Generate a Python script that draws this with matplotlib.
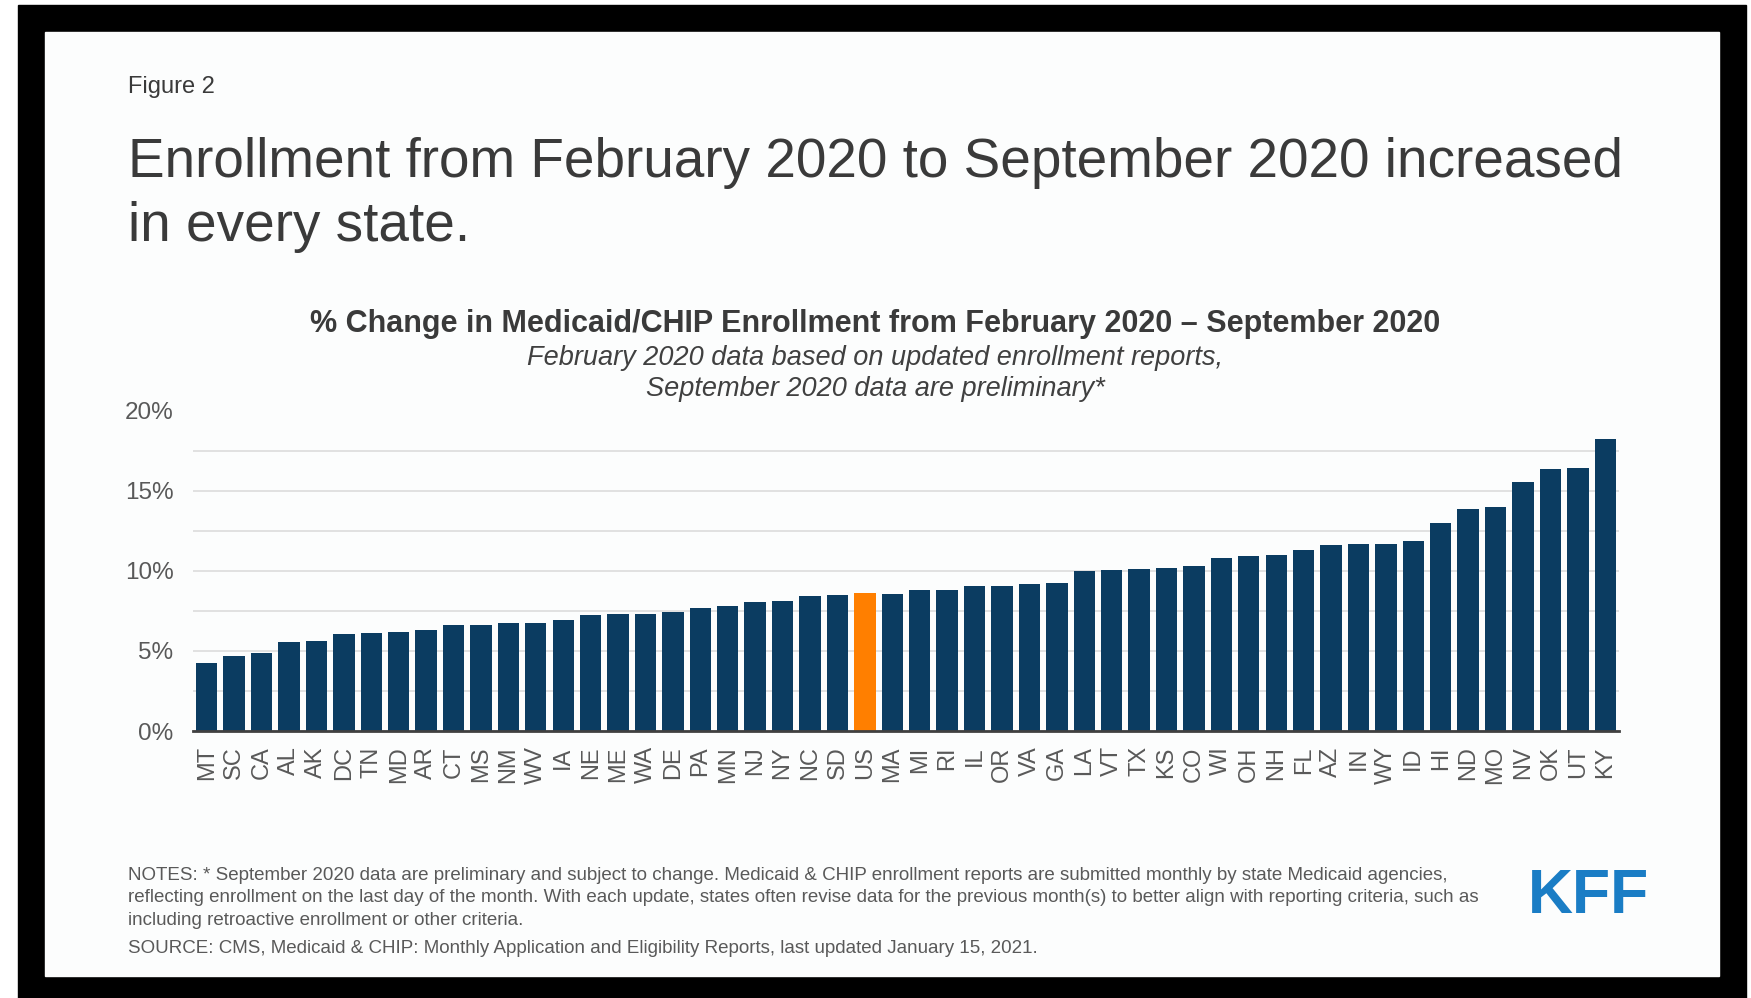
import matplotlib.pyplot as plt
from matplotlib.patches import Rectangle

# data (% change Feb 2020 -> Sep 2020)
states = ["MT", "SC", "CA", "AL", "AK", "DC", "TN", "MD", "AR", "CT", "MS", "NM", "WV",
          "IA", "NE", "ME", "WA", "DE", "PA", "MN", "NJ", "NY", "NC", "SD", "US", "MA",
          "MI", "RI", "IL", "OR", "VA", "GA", "LA", "VT", "TX", "KS", "CO", "WI", "OH",
          "NH", "FL", "AZ", "IN", "WY", "ID", "HI", "ND", "MO", "NV", "OK", "UT", "KY"]
pct_change = [4.26, 4.68, 4.84, 5.53, 5.63, 6.03, 6.09, 6.17, 6.30, 6.59, 6.59, 6.76, 6.76,
              6.92, 7.21, 7.30, 7.30, 7.42, 7.65, 7.80, 8.05, 8.10, 8.44, 8.50, 8.60, 8.58,
              8.77, 8.77, 9.06, 9.06, 9.17, 9.23, 9.96, 10.02, 10.12, 10.20, 10.27, 10.80, 10.90,
              11.00, 11.27, 11.58, 11.68, 11.68, 11.83, 12.95, 13.83, 14.00, 15.54, 16.32, 16.42, 18.23]
y_ticks = [0, 5, 10, 15, 20]

W, H = 1751, 998
navy = "#0b3c61"
orange = "#ff7f00"
grey_txt = "#595959"
dark_txt = "#3a3a3a"

def fx(px):
    return px / W

def fy(py):
    return 1 - py / H

plt.rcParams["font.family"] = ["Liberation Sans", "DejaVu Sans"]

fig = plt.figure(figsize=(W / 100, H / 100), dpi=100, facecolor="white")

# black frame and white slide panel
fig.patches.append(Rectangle((fx(18), fy(998)), fx(1746 - 18), (998 - 5) / H,
                             transform=fig.transFigure, color="black", zorder=-2))
fig.patches.append(Rectangle((fx(45), fy(976)), fx(1719 - 45), (976 - 32) / H,
                             transform=fig.transFigure, color="#fcfdfd", zorder=-1))

# header texts
fig.text(fx(128), fy(93), "Figure 2", fontsize=17, color=dark_txt, va="baseline")
fig.text(fx(128), fy(177), "Enrollment from February 2020 to September 2020 increased",
         fontsize=39.5, color=dark_txt, va="baseline")
fig.text(fx(128), fy(241), "in every state.", fontsize=39.5, color=dark_txt, va="baseline")

fig.text(fx(875), fy(332),
         "% Change in Medicaid/CHIP Enrollment from February 2020 \u2013 September 2020",
         fontsize=22, fontweight="bold", color=dark_txt, ha="center", va="baseline")
fig.text(fx(875), fy(365), "February 2020 data based on updated enrollment reports,",
         fontsize=19.5, style="italic", color="#404040", ha="center", va="baseline")
fig.text(fx(875), fy(396), "September 2020 data are preliminary*",
         fontsize=19.5, style="italic", color="#404040", ha="center", va="baseline")

# bar chart
ax = fig.add_axes([fx(193), fy(731), fx(1619 - 193), (731 - 410.5) / H])
ax.set_facecolor("none")
x = list(range(len(states)))
colors = [orange if s == "US" else navy for s in states]
ax.bar(x, pct_change, width=0.78, color=colors, zorder=2)

ax.set_xlim(-0.5, len(states) - 0.5)
ax.set_ylim(0, 20)
ax.set_yticks(y_ticks)
ax.set_yticklabels([f"{v}%" for v in y_ticks])
ax.set_yticks([2.5, 7.5, 12.5, 17.5], minor=True)
ax.grid(axis="y", which="both", color="#dcdcdc", linewidth=1.2, zorder=0)
ax.set_xticks(x)
ax.set_xticklabels(states, rotation=90)
ax.tick_params(axis="y", length=0, pad=14, labelsize=17.5, labelcolor=grey_txt)
ax.tick_params(axis="y", which="minor", length=0)
ax.tick_params(axis="x", length=0, pad=11, labelsize=17, labelcolor=grey_txt)
for side in ["top", "right", "left"]:
    ax.spines[side].set_visible(False)
ax.spines["bottom"].set_color("#404040")
ax.spines["bottom"].set_linewidth(2)
ax.spines["bottom"].set_zorder(3)

# notes and source
notes = [
    "NOTES: * September 2020 data are preliminary and subject to change. Medicaid & CHIP enrollment reports are submitted monthly by state Medicaid agencies,",
    "reflecting enrollment on the last day of the month. With each update, states often revise data for the previous month(s) to better align with reporting criteria, such as",
    "including retroactive enrollment or other criteria.",
]
for i, line in enumerate(notes):
    fig.text(fx(128), fy(880 + 22.5 * i), line, fontsize=13.5, color=grey_txt, va="baseline")
fig.text(fx(128), fy(953),
         "SOURCE: CMS, Medicaid & CHIP: Monthly Application and Eligibility Reports, last updated January 15, 2021.",
         fontsize=13.5, color=grey_txt, va="baseline")

fig.text(fx(1528), fy(913), "KFF", fontsize=45, fontweight="bold", color="#1a7dc5",
         va="baseline")

fig.savefig("out.png", dpi=100, facecolor=fig.get_facecolor())
